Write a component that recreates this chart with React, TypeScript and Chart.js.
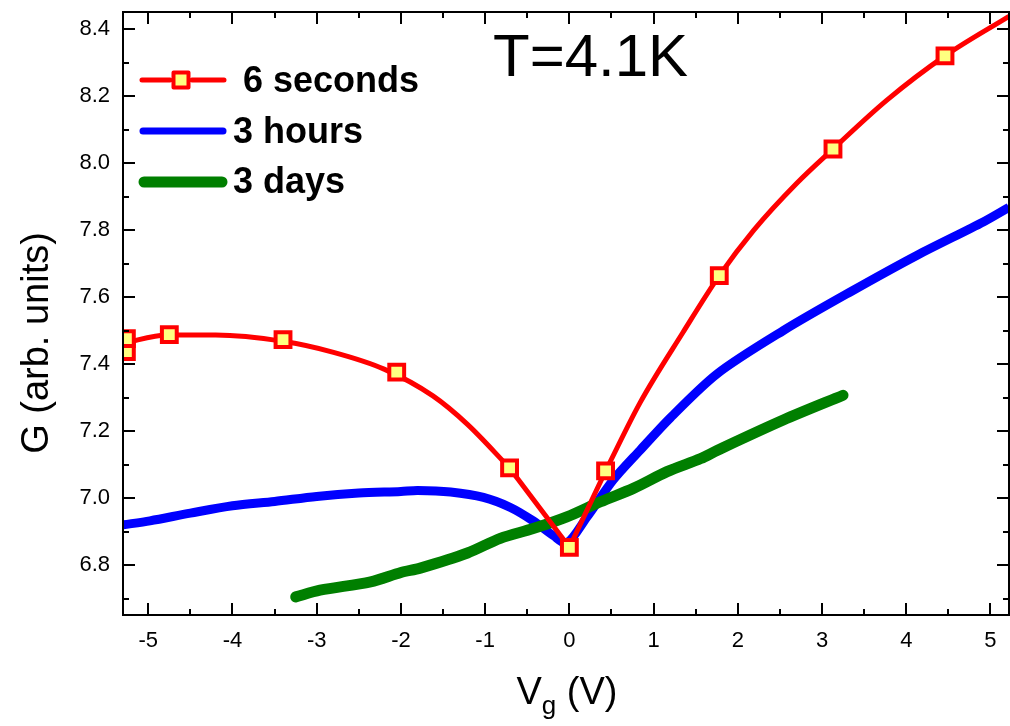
import React, { useEffect, useRef } from "react";
import { Chart, registerables } from "chart.js";

Chart.register(...registerables);

// ---- axis / tick data ----
const xMin = -5.3;
const xMax = 5.22;
const yMin = 6.651;
const yMax = 8.451;
const xTickValues = [-5, -4, -3, -2, -1, 0, 1, 2, 3, 4, 5];
const xMinorTickValues = [-4.5, -3.5, -2.5, -1.5, -0.5, 0.5, 1.5, 2.5, 3.5, 4.5];
const yTickValues = [6.8, 7.0, 7.2, 7.4, 7.6, 7.8, 8.0, 8.2, 8.4];
const yMinorTickValues = [6.7, 6.9, 7.1, 7.3, 7.5, 7.7, 7.9, 8.1, 8.3];

// ---- series: 6 seconds (markers) ----
const secMarkX = [-5.26, -5.26, -4.75, -3.4, -2.05, -0.71, 0, 0.43, 1.78, 3.13, 4.46];
const secMarkY = [7.437, 7.476, 7.488, 7.473, 7.376, 7.09, 6.853, 7.081, 7.664, 8.042, 8.32];
// 6 seconds: drawn line (left curve, V part, right curve)
const secLeftX = [-5.3, -4.77, -4.2, -3.4, -2.8, -2.2, -1.62, -1.21, -0.71];
const secLeftY = [7.462, 7.487, 7.487, 7.468, 7.435, 7.385, 7.305, 7.22, 7.09];
const secVX = [-0.71, 0, 0.43];
const secVY = [7.09, 6.853, 7.081];
const secRightX = [0.43, 0.84, 1.35, 1.78, 2.19, 2.7, 3.13, 3.77, 4.46, 5.22];
const secRightY = [7.081, 7.285, 7.495, 7.664, 7.8, 7.94, 8.042, 8.188, 8.32, 8.438];

// ---- series: 3 hours ----
const hoursX = [-5.3, -4.98, -4.5, -4.0, -3.5, -3.0, -2.5, -2.0, -1.8, -1.41, -1.02, -0.7, -0.43, -0.19, -0.03, 0.21, 0.52, 0.84, 1.2, 1.76, 2.54, 3.34, 4.13, 4.92, 5.22];
const hoursY = [6.92, 6.932, 6.955, 6.977, 6.99, 7.005, 7.015, 7.02, 7.023, 7.018, 7.002, 6.972, 6.932, 6.888, 6.866, 6.944, 7.054, 7.143, 7.24, 7.372, 7.5, 7.616, 7.725, 7.825, 7.868];

// ---- series: 3 days ----
const daysX = [-3.25, -2.96, -2.36, -2.0, -1.77, -1.21, -0.82, -0.43, -0.03, 0.37, 0.76, 1.16, 1.56, 1.76, 2.54, 3.25];
const daysY = [6.705, 6.725, 6.75, 6.778, 6.791, 6.836, 6.88, 6.909, 6.944, 6.989, 7.029, 7.079, 7.118, 7.143, 7.233, 7.307];

const legendLabels = [" 6 seconds", "3 hours", "3 days"];
const annotationText = "T=4.1K";
const yTitle = "G (arb. units)";

const RED = "#ff0000";
const BLUE = "#0000ff";
const GREEN = "#007f00";
const YELLOW = "#ffff80";
const FONT = "'Liberation Sans', Arial, sans-serif";

const pts = (xs: number[], ys: number[]) => xs.map((x, i) => ({ x, y: ys[i] }));

const zeroPad = (s: any) => {
  s.paddingTop = 0;
  s.paddingBottom = 0;
  s.paddingLeft = 0;
  s.paddingRight = 0;
};

const decorPlugin = {
  id: "decor",
  afterDatasetsDraw(chart: any) {
    const { ctx, chartArea: a, scales } = chart;
    const xs = scales.x;
    const ys = scales.y;
    ctx.save();
    ctx.strokeStyle = "#000";
    ctx.lineWidth = 2;
    ctx.strokeRect(a.left, a.top, a.right - a.left, a.bottom - a.top);
    ctx.beginPath();
    const xt = (vals: number[], len: number) => {
      vals.forEach((v) => {
        const p = Math.round(xs.getPixelForValue(v));
        ctx.moveTo(p, a.bottom);
        ctx.lineTo(p, a.bottom - len);
        ctx.moveTo(p, a.top);
        ctx.lineTo(p, a.top + len);
      });
    };
    const yt = (vals: number[], len: number) => {
      vals.forEach((v) => {
        const p = Math.round(ys.getPixelForValue(v));
        ctx.moveTo(a.left, p);
        ctx.lineTo(a.left + len, p);
        ctx.moveTo(a.right, p);
        ctx.lineTo(a.right - len, p);
      });
    };
    xt(xTickValues, 12);
    xt(xMinorTickValues, 6);
    yt(yTickValues, 12);
    yt(yMinorTickValues, 6);
    ctx.stroke();
    ctx.restore();
  },
  afterDraw(chart: any) {
    const { ctx } = chart;
    ctx.save();
    ctx.fillStyle = "#000";
    ctx.font = `60px ${FONT}`;
    ctx.textAlign = "left";
    ctx.textBaseline = "alphabetic";
    ctx.fillText(annotationText, 493, 76);

    ctx.save();
    ctx.translate(48, 343);
    ctx.rotate(-Math.PI / 2);
    ctx.font = `38px ${FONT}`;
    ctx.textAlign = "center";
    ctx.fillText(yTitle, 0, 0);
    ctx.restore();

    ctx.font = `38px ${FONT}`;
    const wV = ctx.measureText("V").width;
    const wRest = ctx.measureText(" (V)").width;
    ctx.font = `26px ${FONT}`;
    const wg = ctx.measureText("g").width;
    const total = wV + wg + wRest;
    let xx = 567 - total / 2;
    const base = 704;
    ctx.font = `38px ${FONT}`;
    ctx.fillText("V", xx, base);
    xx += wV;
    ctx.font = `26px ${FONT}`;
    ctx.fillText("g", xx, base + 10);
    xx += wg;
    ctx.font = `38px ${FONT}`;
    ctx.fillText(" (V)", xx, base);

    ctx.lineCap = "round";
    ctx.strokeStyle = RED;
    ctx.lineWidth = 5;
    ctx.beginPath();
    ctx.moveTo(142, 80);
    ctx.lineTo(170, 80);
    ctx.moveTo(192, 80);
    ctx.lineTo(224, 80);
    ctx.stroke();
    ctx.lineWidth = 4;
    ctx.lineJoin = "round";
    ctx.fillStyle = YELLOW;
    ctx.fillRect(173.5, 72.5, 15, 15);
    ctx.strokeRect(173.5, 72.5, 15, 15);
    ctx.strokeStyle = BLUE;
    ctx.lineWidth = 7;
    ctx.beginPath();
    ctx.moveTo(143, 131);
    ctx.lineTo(223, 131);
    ctx.stroke();
    ctx.strokeStyle = GREEN;
    ctx.lineWidth = 11;
    ctx.beginPath();
    ctx.moveTo(144, 182);
    ctx.lineTo(222, 182);
    ctx.stroke();

    ctx.fillStyle = "#000";
    ctx.font = `bold 36px ${FONT}`;
    ctx.fillText(legendLabels[0], 233, 92);
    ctx.fillText(legendLabels[1], 233, 143);
    ctx.fillText(legendLabels[2], 233, 193);
    ctx.restore();
  },
};

export default function App() {
  const ref = useRef<HTMLCanvasElement | null>(null);
  useEffect(() => {
    if (!ref.current) return;
    const lineBase = { showLine: true, pointRadius: 0, fill: false, parsing: false as const };
    const chart = new Chart(ref.current, {
      type: "line",
      data: {
        datasets: [
          {
            ...lineBase,
            label: "6 seconds markers",
            data: pts(secMarkX, secMarkY),
            showLine: false,
            pointStyle: "rect",
            pointRadius: 10.5,
            pointBorderWidth: 4,
            pointBorderColor: RED,
            pointBackgroundColor: YELLOW,
            borderColor: RED,
            clip: 0,
            order: 0,
          },
          {
            ...lineBase,
            label: "6 seconds left",
            data: pts(secLeftX, secLeftY),
            borderColor: RED,
            borderWidth: 5,
            cubicInterpolationMode: "monotone",
            order: 1,
          },
          {
            ...lineBase,
            label: "6 seconds V",
            data: pts(secVX, secVY),
            borderColor: RED,
            borderWidth: 5,
            tension: 0,
            borderJoinStyle: "round",
            order: 1,
          },
          {
            ...lineBase,
            label: "6 seconds right",
            data: pts(secRightX, secRightY),
            borderColor: RED,
            borderWidth: 5,
            cubicInterpolationMode: "monotone",
            order: 1,
          },
          {
            ...lineBase,
            label: "3 days",
            data: pts(daysX, daysY),
            borderColor: GREEN,
            borderWidth: 11,
            borderCapStyle: "round",
            borderJoinStyle: "round",
            tension: 0.3,
            order: 2,
          },
          {
            ...lineBase,
            label: "3 hours",
            data: pts(hoursX, hoursY),
            borderColor: BLUE,
            borderWidth: 9,
            borderJoinStyle: "round",
            tension: 0.3,
            order: 3,
          },
        ] as any,
      },
      options: {
        responsive: false,
        animation: false,
        events: [],
        layout: { autoPadding: false, padding: { top: 12, right: 1, left: 0, bottom: 0 } },
        plugins: { legend: { display: false }, tooltip: { enabled: false } },
        scales: {
          x: {
            type: "linear",
            min: xMin,
            max: xMax,
            grid: { display: false, drawTicks: false },
            border: { display: false },
            afterBuildTicks: (s: any) => {
              s.ticks = xTickValues.map((v) => ({ value: v }));
            },
            afterFit: (s: any) => {
              s.height = 111;
              zeroPad(s);
            },
            ticks: {
              padding: 13,
              autoSkip: false,
              maxRotation: 0,
              color: "#000",
              font: { family: FONT, size: 22 },
              callback: (v: any) => String(v),
            },
          },
          y: {
            type: "linear",
            min: yMin,
            max: yMax,
            grid: { display: false, drawTicks: false },
            border: { display: false },
            afterBuildTicks: (s: any) => {
              s.ticks = yTickValues.map((v) => ({ value: v }));
            },
            afterFit: (s: any) => {
              s.width = 123;
              zeroPad(s);
            },
            ticks: {
              padding: 13,
              autoSkip: false,
              color: "#000",
              font: { family: FONT, size: 22 },
              callback: (v: any) => Number(v).toFixed(1),
            },
          },
        },
      },
      plugins: [decorPlugin],
    });
    return () => chart.destroy();
  }, []);
  return (
    <div style={{ position: "absolute", left: 0, top: 0, width: 1010, height: 726, background: "#fff" }}>
      <canvas ref={ref} width={1010} height={726} style={{ width: 1010, height: 726, display: "block" }} />
    </div>
  );
}
